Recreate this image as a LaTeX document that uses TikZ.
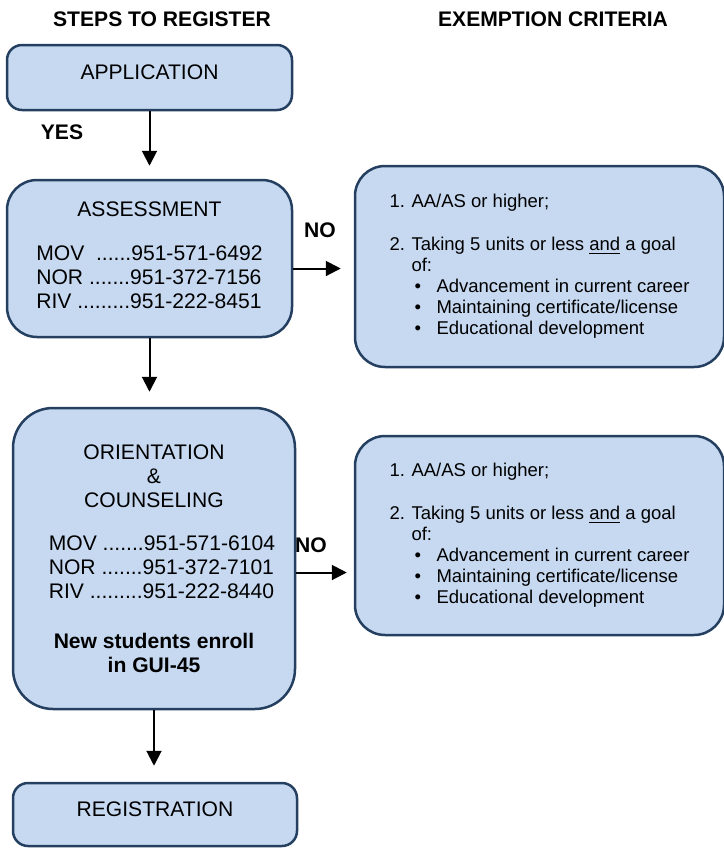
\documentclass[tikz,border=0pt]{standalone}
\usepackage{fontspec}
\setmainfont{Liberation Sans}
\usetikzlibrary{arrows.meta}
\definecolor{boxfill}{HTML}{C6D9F1}
\definecolor{boxline}{HTML}{243F60}
\newcommand{\mainsize}{\fontsize{10.55}{12}\selectfont}
\newcommand{\listsize}{\fontsize{9.25}{10.5}\selectfont}
\newcommand{\bul}{\makebox[12.5pt][l]{\hspace{1.5pt}\textbullet}}

\begin{document}
\begin{tikzpicture}[x=0.5pt,y=-0.5pt,
	stepbox/.style={shape=rectangle,draw=boxline,fill=boxfill,line width=1.25pt,align=center,inner sep=0pt,font=\mainsize},
	critbox/.style={stepbox,minimum width=184.5pt,rounded corners=15pt,font=\listsize},
	arrow/.style={-{Triangle[length=7.5pt,width=7.5pt]},line width=1pt},
	answer/.style={font=\mainsize\bfseries}]
		\useasboundingbox (0,0) rectangle (724,848);
		
		\node[answer] (T1) at (162,19) {STEPS TO REGISTER};
		\node[answer] (T2) at (553,19) {EXEMPTION CRITERIA};
		
		\node[stepbox,minimum width=142.5pt,minimum height=32.5pt,rounded corners=7.5pt,text depth=5pt] (A) at (149.5,77.5) {APPLICATION};
		\node[stepbox,minimum width=142.5pt,minimum height=78.5pt,rounded corners=15pt] (B) at (149.5,258.5) {ASSESSMENT\\[12.5pt]
			\begin{tabular}{@{}l@{}}MOV\ \ ......951-571-6492\\NOR .......951-372-7156\\RIV .........951-222-8451\end{tabular}};
		\node[stepbox,minimum width=141pt,minimum height=150.5pt,rounded corners=20pt] (C) at (154,558.5) {ORIENTATION\\\&\\COUNSELING\\[12pt]
			\hspace*{8pt}\begin{tabular}{@{}l@{}}MOV .......951-571-6104\\NOR .......951-372-7101\\RIV .........951-222-8440\end{tabular}\\[13pt]
			\textbf{New students enroll}\\\textbf{in GUI-45}};
		\node[stepbox,minimum width=142pt,minimum height=31.5pt,rounded corners=7.5pt,text depth=5.5pt] (D) at (155,814.5) {REGISTRATION};
		
		\node[critbox,minimum height=100.5pt] (E) at (539.5,266.5) {\begin{tabular}{@{}p{11pt}@{}l@{}}
			1. & AA/AS or higher;\\[11pt]
			2. & Taking 5 units or less \underline{and} a goal\\
			 & of:\\
			 & \bul Advancement in current career\\
			 & \bul Maintaining certificate/license\\
			 & \bul Educational development
			\end{tabular}};
		\node[critbox,minimum height=99.5pt] (F) at (539.5,535.5) {\begin{tabular}{@{}p{11pt}@{}l@{}}
			1. & AA/AS or higher;\\[11pt]
			2. & Taking 5 units or less \underline{and} a goal\\
			 & of:\\
			 & \bul Advancement in current career\\
			 & \bul Maintaining certificate/license\\
			 & \bul Educational development
			\end{tabular}};
		
		\node[answer] (Y) at (62,132) {YES};
		\node[answer] (N1) at (320,230) {NO};
		\node[answer] (N2) at (311,545) {NO};
		
		\draw[arrow,shorten >=6.5pt] (A.south) -- (A.south |- B.north);
		\draw[arrow,shorten >=7.5pt] (B.south) -- (B.south |- C.north);
		\draw[arrow,shorten >=8pt] (C.south) -- (C.south |- D.north);
		\draw[arrow,shorten >=6.5pt] ([yshift=-5pt]B.east) -- ([yshift=-5pt]B.east -| E.west);
		\draw[arrow,shorten >=3.5pt] ([yshift=-7pt]C.east) -- ([yshift=-7pt]C.east -| F.west);
		
		\end{tikzpicture}
\end{document}
